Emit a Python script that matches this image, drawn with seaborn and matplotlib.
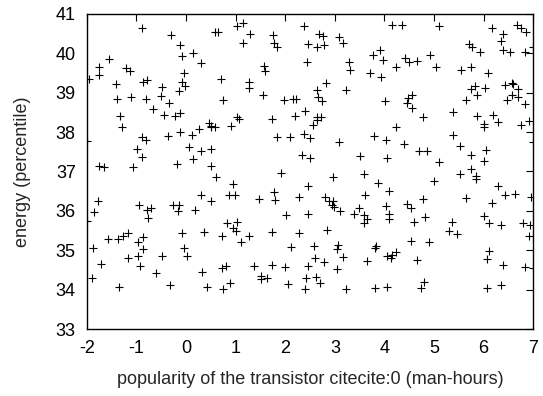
import matplotlib
matplotlib.use('Agg')
import matplotlib.pyplot as plt
import pandas as pd
import seaborn as sns

# values
x_vals = [
    -1.556, -1.751, -1.758, -1.207, -1.126, -1.953, -1.409, -1.113, -1.402, -1.335, -1.301, -1.993,
    -0.884, -0.306, -0.125, -0.078, 0.144, 0.292, -0.051, -0.864, -0.797, -0.085, -0.024, -0.488,
    -0.145, -0.804, -0.501, -0.340, -0.663, -0.454, -0.232, -0.125, 0.460, 0.507, 0.251, -0.898,
    -0.804, -0.360, -0.118, 0.117, -0.999, 0.050, 0.305, 0.500,
    1.018, 1.152, 0.581, 0.648, 1.293, 1.152, 1.757, 1.770, 1.824, 1.569, 1.596, 0.702,
    1.273, 1.273, 0.749, 1.555, 1.972, 2.160, 1.031, 1.058, 0.493, 0.574, 0.897, 1.737,
    1.838, 2.093,
    2.382, 2.671, 2.758, 3.088, 2.463, 2.631, 2.785, 3.168, 2.442, 3.282, 3.303, 3.706,
    2.819, 2.644, 3.222, 2.214, 2.658, 2.745, 2.200, 2.402, 2.631, 2.631, 2.725, 2.550,
    2.375, 2.503, 3.088,
    4.156, 4.358, 5.090, 3.773, 3.914, 3.961, 4.412, 4.486, 4.660, 4.922, 4.237, 5.037,
    3.934, 4.553, 4.479, 4.459, 4.015, 4.546, 4.781, 4.230, 3.787, 4.022, 4.392, 4.687,
    4.855,
    6.172, 6.663, 6.750, 6.851, 6.394, 6.347, 5.695, 5.763, 6.986, 5.917, 6.394, 6.529,
    6.831, 5.547, 5.749, 6.092, 5.736, 5.823, 6.018, 6.421, 6.562, 6.589, 6.690, 5.642,
    5.870, 6.475, 6.582, 6.697, 6.844, 5.386, 5.857, 6.193, 6.280, 5.998, 5.998, 6.757,
    6.918, 5.373, 5.521, 6.045, 6.990,
    -1.751, -1.657, -1.778, -1.852, -1.993, -1.886, -1.583, -1.375, -1.268, -1.173, -1.180, -1.725,
    -1.899, -1.348,
    -0.898, -1.073, -0.179, 0.144, 0.493, 0.305, 0.493, -0.945, -0.784, -0.716, -0.259, -0.152,
    -0.159, 0.184, -0.763, -0.091, 0.366, -0.878, -0.965, -0.878, -0.972, -0.495, -0.036, 0.011,
    -0.925, -0.616, 0.325, -0.320, 0.426,
    0.601, 1.911, 0.950, 0.870, 0.984, 1.468, 1.770, 1.784, 2.006, 0.829, 1.031, 0.950,
    1.004, 0.729, 1.266, 1.098, 1.737, 2.106, 0.715, 0.796, 1.367, 1.723, 1.992, 1.501,
    1.501, 1.636, 0.890, 0.749, 2.059,
    2.328, 2.496, 3.504, 2.953, 3.585, 2.463, 2.268, 2.792, 2.873, 2.967, 2.946, 2.980,
    3.101, 2.463, 3.377, 3.477, 3.598, 3.585, 3.639, 3.585, 2.832, 2.268, 2.584, 3.067,
    3.041, 2.597, 2.779, 3.162, 3.652, 2.463, 3.034, 2.409, 2.610, 2.705, 2.395, 3.215,
    4.055, 5.097, 3.874, 4.089, 4.990, 4.768, 4.445, 4.533, 4.022, 4.096, 4.096, 4.586,
    4.815, 5.366, 5.306, 4.526, 4.896, 3.827, 3.814, 4.055, 4.129, 4.156, 4.223, 4.660,
    4.795, 4.734, 3.814, 4.055,
    5.736, 5.998, 5.749, 5.514, 5.843, 5.850, 6.287, 6.435, 6.636, 6.959, 5.635, 6.173,
    6.005, 6.105, 6.354, 6.797, 6.939, 6.912, 5.460, 6.112, 6.058, 6.394, 6.838, 7.000,
    6.072, 6.347,
]
y_vals = [
    39.85, 39.64, 39.46, 39.63, 39.56, 39.34, 39.23, 38.90, 38.83, 38.40, 38.14, 37.77,
    40.63, 40.46, 40.22, 39.93, 40.01, 39.75, 39.49, 39.26, 39.31, 39.28, 39.16, 39.15,
    39.04, 38.83, 38.91, 38.75, 38.58, 38.43, 38.41, 38.48, 38.24, 38.14, 38.09, 37.88,
    37.80, 37.90, 38.01, 37.92, 37.58, 37.62, 37.51, 37.56,
    40.68, 40.78, 40.53, 40.55, 40.48, 40.27, 40.46, 40.27, 40.15, 39.68, 39.55, 39.34,
    39.27, 39.13, 38.81, 38.93, 38.81, 38.83, 38.37, 38.34, 38.15, 38.14, 38.15, 38.32,
    37.87, 37.88,
    40.68, 40.50, 40.44, 40.41, 40.23, 40.16, 40.21, 40.25, 39.77, 39.77, 39.57, 39.49,
    39.24, 39.07, 39.07, 38.85, 38.89, 38.78, 38.42, 38.53, 38.37, 38.31, 38.37, 38.19,
    37.94, 37.85, 37.76,
    40.72, 40.72, 40.68, 39.95, 40.08, 39.84, 39.87, 39.77, 39.81, 39.95, 39.65, 39.64,
    39.39, 38.95, 38.87, 38.75, 38.78, 38.60, 38.37, 38.14, 37.89, 37.80, 37.69, 37.53,
    37.53,
    40.63, 40.71, 40.63, 40.53, 40.49, 40.32, 40.23, 40.17, 40.16, 40.02, 40.08, 40.02,
    40.04, 39.58, 39.66, 39.50, 39.09, 39.18, 39.11, 39.20, 39.24, 39.21, 39.10, 38.81,
    38.93, 38.81, 38.93, 38.90, 38.70, 38.52, 38.41, 38.44, 38.26, 38.20, 38.14, 38.18,
    38.28, 37.92, 37.64, 37.55, 37.75,
    37.14, 37.11, 36.26, 35.97, 35.75, 35.05, 35.29, 35.28, 35.35, 35.45, 34.81, 34.65,
    34.29, 34.07,
    37.37, 37.12, 37.20, 37.32, 37.14, 36.41, 36.25, 36.14, 36.02, 36.08, 36.15, 36.15,
    36.00, 36.01, 35.82, 35.44, 35.47, 35.34, 35.22, 35.04, 34.85, 34.85, 35.07, 34.85,
    34.60, 34.43, 34.46, 34.13, 34.07,
    36.87, 36.97, 36.67, 36.40, 36.41, 36.30, 36.49, 36.27, 35.89, 35.68, 35.72, 35.57,
    35.50, 35.36, 35.37, 35.20, 35.47, 35.08, 34.54, 34.60, 34.59, 34.62, 34.57, 34.35,
    34.26, 34.29, 34.18, 34.01, 34.14,
    37.42, 37.34, 37.39, 36.86, 36.94, 36.63, 36.34, 36.36, 36.25, 36.26, 36.14, 36.09,
    36.00, 35.93, 35.93, 36.07, 36.40, 35.90, 35.80, 35.69, 35.52, 35.44, 35.11, 35.14,
    35.03, 34.80, 34.69, 34.82, 34.74, 34.60, 34.53, 34.29, 34.32, 34.17, 34.01, 34.01,
    37.35, 37.24, 36.70, 36.51, 36.76, 36.29, 36.18, 36.08, 36.12, 35.91, 35.80, 35.71,
    35.84, 35.72, 35.49, 35.24, 35.20, 35.11, 35.05, 34.85, 34.81, 34.88, 34.95, 34.75,
    34.20, 34.03, 34.05, 34.08,
    37.41, 37.27, 37.05, 36.93, 36.89, 36.81, 36.64, 36.40, 36.44, 36.35, 36.32, 36.21,
    35.87, 35.70, 35.64, 35.68, 35.64, 35.36, 35.41, 34.99, 34.78, 34.63, 34.58, 34.56,
    34.03, 34.12,
]
x_ticks = list(range(-2, 8))
y_ticks = list(range(33, 42))

df = pd.DataFrame({'x': x_vals, 'y': y_vals})

sns.set_style('white')
plt.rcParams['font.family'] = ['Liberation Sans', 'DejaVu Sans']
plt.rcParams['axes.unicode_minus'] = False

fig = plt.figure(figsize=(5.43, 3.96), dpi=100)
ax = fig.add_axes([0.160, 0.169, 0.822, 0.796])

sns.scatterplot(data=df, x='x', y='y', marker='+', color='black',
                s=26, linewidth=0.8, ax=ax, legend=False)

ax.set_xlim(-2, 7)
ax.set_ylim(33, 41)
ax.set_xticks(x_ticks)
ax.set_yticks(y_ticks)
ax.tick_params(direction='in', length=5, width=0.8, top=True, right=True,
               labelsize=13, colors='black', pad=8)
for s in ax.spines.values():
    s.set_visible(True)
    s.set_color('black')
    s.set_linewidth(1.0)

ax.set_xlabel('popularity of the transistor citecite:0 (man-hours)', fontsize=13, labelpad=10)
ax.set_ylabel('energy (percentile)', fontsize=13, labelpad=18)

fig.savefig('out.png', dpi=100)
